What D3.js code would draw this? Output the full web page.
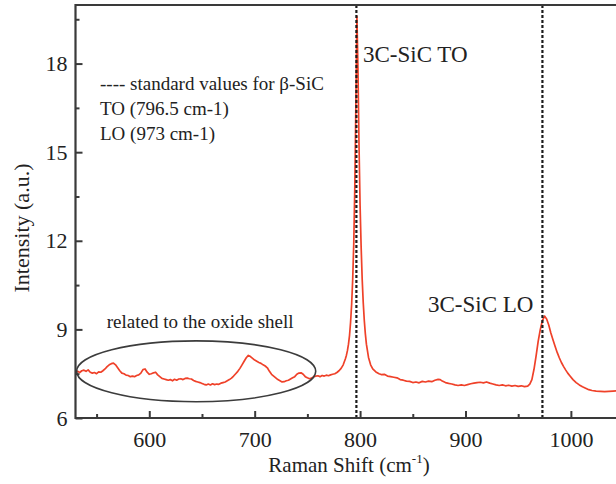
<!DOCTYPE html>
<html>
<head>
<meta charset="utf-8">
<script src="https://cdn.jsdelivr.net/npm/d3@7"></script>
<style>
  html, body { margin: 0; padding: 0; background: #fff; }
  svg { display: block; }
</style>
</head>
<body>
<svg id="chart" width="616" height="484" font-family="Liberation Serif"></svg>
<script>
// Raman spectrum of SiC nanowires (shift in cm^-1, intensity in a.u.)
const shift = [
  530,532,534,536,538,540,542,544,546,548,550,552,554,556,558,560,562,564,566,568,
  570,572,574,576,578,580,582,584,586,588,590,592,594,596,598,600,602,604,606,608,
  610,612,614,616,618,620,622,624,626,628,630,632,634,636,638,640,642,644,646,648,
  650,652,654,656,658,660,662,664,666,668,670,672,674,676,678,680,682,684,686,688,
  690,692,694,696,698,700,702,704,706,708,710,712,714,716,718,720,722,724,726,728,
  730,732,734,736,738,740,742,744,746,748,750,752,754,756,758,760,762,764,766,768,
  770,772,774,776,778,780,782,784,786,787,788,789,790,791,792,793,794,795,796,797,
  798,799,800,801,802,803,804,805,806,808,810,812,815,818,820,823,826,829,832,835,
  838,841,844,847,850,853,856,859,862,865,868,871,874,876,878,881,884,887,890,893,
  896,899,902,905,908,911,914,917,920,923,926,929,932,935,938,941,944,947,950,953,
  956,959,961,963,965,967,969,971,973,975,977,979,981,983,985,987,989,991,993,995,
  997,999,1002,1005,1008,1011,1014,1017,1020,1024,1028,1032,1036,1040,1044,1048,1052
];
const intensity = [
  7.55,7.58,7.54,7.60,7.62,7.58,7.63,7.55,7.52,7.54,7.50,7.56,7.55,7.60,7.66,7.74,7.80,7.84,7.86,7.80,
  7.70,7.60,7.52,7.50,7.45,7.44,7.40,7.42,7.40,7.44,7.46,7.52,7.64,7.66,7.55,7.48,7.50,7.53,7.55,7.46,
  7.40,7.34,7.32,7.30,7.28,7.30,7.26,7.31,7.28,7.32,7.33,7.30,7.34,7.35,7.33,7.32,7.27,7.24,7.22,7.20,
  7.17,7.14,7.12,7.15,7.12,7.16,7.13,7.15,7.14,7.18,7.20,7.22,7.26,7.30,7.35,7.42,7.50,7.58,7.68,7.80,
  7.92,8.04,8.12,8.08,8.02,7.96,7.92,7.88,7.85,7.80,7.76,7.70,7.58,7.48,7.42,7.36,7.30,7.26,7.22,7.23,
  7.26,7.28,7.32,7.36,7.40,7.48,7.52,7.53,7.48,7.40,7.36,7.33,7.35,7.40,7.42,7.43,7.40,7.44,7.42,7.45,
  7.43,7.46,7.48,7.50,7.54,7.60,7.68,7.80,8.00,8.12,8.28,8.50,8.80,9.25,9.85,10.7,11.9,13.8,16.6,19.6,
  17.8,15.2,13.2,11.8,10.7,9.90,9.30,8.85,8.50,8.05,7.80,7.66,7.56,7.50,7.47,7.48,7.42,7.40,7.38,7.36,
  7.30,7.28,7.25,7.24,7.20,7.22,7.19,7.24,7.22,7.25,7.23,7.28,7.31,7.30,7.25,7.20,7.17,7.15,7.12,7.10,
  7.12,7.10,7.13,7.16,7.18,7.20,7.21,7.19,7.22,7.18,7.15,7.12,7.10,7.12,7.09,7.11,7.08,7.10,7.07,7.09,
  7.06,7.08,7.15,7.30,7.65,8.10,8.60,9.00,9.30,9.45,9.35,9.15,8.88,8.65,8.43,8.22,8.04,7.88,7.75,7.63,
  7.52,7.43,7.30,7.20,7.12,7.06,7.01,6.96,6.93,6.91,6.90,6.89,6.90,6.91,6.92,6.90,6.91
];

// Axis ticks
const xMajor = [600, 700, 800, 900, 1000];
const xMinor = [550, 650, 750, 850, 950, 1050];
const yMajor = [6, 9, 12, 15, 18];
const yMinor = [7.5, 10.5, 13.5, 16.5, 19.5];

// Reference positions for beta-SiC phonon modes
const refLines = [796.5, 973];
const legendLines = ["---- standard values for \u03b2-SiC", "TO (796.5 cm-1)", "LO (973 cm-1)"];

// Region of the oxide-shell bands: centre and half-extents in data units
const shellCenter = [644.5, 7.58];
const shellHalf = [113.4, 1.03];

const FONT = "Liberation Serif";
const INK = "#222";

const svg = d3.select("#chart");
const plotLeft = 75.5, plotTop = 5, plotBottom = 418;

const x = d3.scaleLinear().domain([530, 1050]).range([plotLeft, plotLeft + 520 * 1.054]);
const y = d3.scaleLinear().domain([6, 20]).range([plotBottom, plotTop - 0.5]);

const frameColor = "#3a3a3a";

function label(sel, size) {
  return sel.attr("font-family", FONT).attr("font-size", size).attr("fill", INK);
}

// Spectrum
const line = d3.line().x((d, i) => x(shift[i])).y(d => y(d));
svg.append("path")
  .datum(intensity)
  .attr("d", line)
  .attr("fill", "none")
  .attr("stroke", "#ef4129")
  .attr("stroke-width", 1.7)
  .attr("stroke-linejoin", "round");

// Oxide-shell ellipse
svg.append("ellipse")
  .attr("cx", x(shellCenter[0]))
  .attr("cy", y(shellCenter[1]))
  .attr("rx", x(shellCenter[0] + shellHalf[0]) - x(shellCenter[0]))
  .attr("ry", y(shellCenter[1]) - y(shellCenter[1] + shellHalf[1]))
  .attr("fill", "none")
  .attr("stroke", "#3c3c3c")
  .attr("stroke-width", 1.6);

// Dotted reference lines
svg.selectAll("line.ref")
  .data(refLines)
  .join("line")
  .attr("class", "ref")
  .attr("x1", d => x(d)).attr("x2", d => x(d))
  .attr("y1", plotTop).attr("y2", plotBottom)
  .attr("stroke", "#1c1c1c")
  .attr("stroke-width", 2.2)
  .attr("stroke-dasharray", "3,2");

// Axes with inward ticks
const gx = svg.append("g").attr("transform", `translate(0,${plotBottom})`);
gx.call(d3.axisBottom(x).tickValues(xMajor).tickSize(-7).tickPadding(13).tickFormat(d3.format("d")));
const gxm = svg.append("g").attr("transform", `translate(0,${plotBottom})`);
gxm.call(d3.axisBottom(x).tickValues(xMinor).tickSize(-4).tickFormat(""));

const gy = svg.append("g").attr("transform", `translate(${plotLeft},0)`);
gy.call(d3.axisLeft(y).tickValues(yMajor).tickSize(-7).tickPadding(8).tickFormat(d3.format("d")));
const gym = svg.append("g").attr("transform", `translate(${plotLeft},0)`);
gym.call(d3.axisLeft(y).tickValues(yMinor).tickSize(-4).tickFormat(""));

[gx, gxm, gy, gym].forEach(g => {
  label(g, 22);
  g.select(".domain").remove();
  g.selectAll(".tick line").attr("stroke", frameColor).attr("stroke-width", 2);
  g.selectAll(".tick text").attr("fill", INK);
});

// Frame
svg.append("path")
  .attr("d", `M616,${plotTop}H${plotLeft}V${plotBottom}H616`)
  .attr("fill", "none")
  .attr("stroke", frameColor)
  .attr("stroke-width", 2.2);

// Axis titles
const xt = label(svg.append("text"), 21)
  .attr("x", 349).attr("y", 472)
  .attr("text-anchor", "middle");
xt.append("tspan").text("Raman Shift (cm");
xt.append("tspan").attr("dy", -9).attr("font-size", 13).text("-1");
xt.append("tspan").attr("dy", 9).text(")");

label(svg.append("text"), 22)
  .attr("transform", "translate(29,228) rotate(-90)")
  .attr("text-anchor", "middle")
  .text("Intensity (a.u.)");

// Annotations
label(svg.selectAll("text.legend")
  .data(legendLines)
  .join("text")
  .attr("class", "legend"), 19)
  .attr("x", 100)
  .attr("y", (d, i) => 90 + i * 25)
  .text(d => d);

label(svg.append("text"), 19)
  .attr("x", x(shellCenter[0]) + 4).attr("y", 328)
  .attr("text-anchor", "middle")
  .text("related to the oxide shell");

label(svg.append("text"), 23)
  .attr("x", 363).attr("y", 62)
  .text("3C-SiC TO");

label(svg.append("text"), 23)
  .attr("x", 428).attr("y", 312)
  .text("3C-SiC LO");
</script>
</body>
</html>
